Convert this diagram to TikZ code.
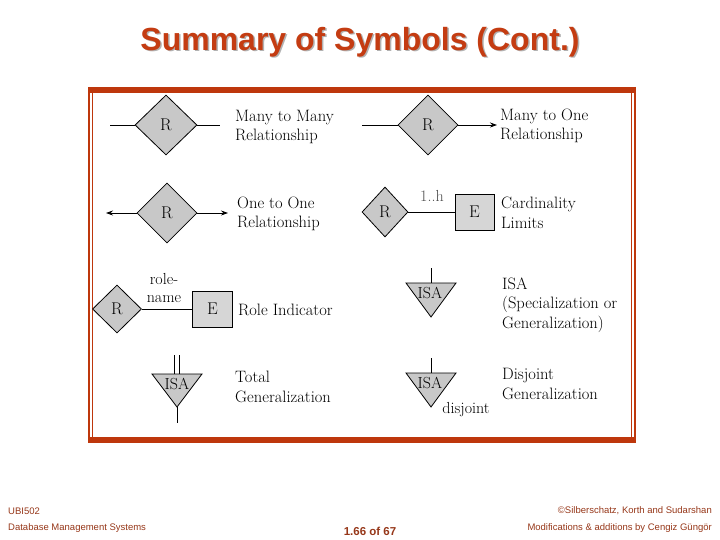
\documentclass[tikz,border=0pt]{standalone}
\usepackage{fontspec}
\usetikzlibrary{shapes.geometric,arrows.meta,positioning}
\newfontfamily\slidefont{Liberation Sans}

\definecolor{framered}{RGB}{190,55,12}
\definecolor{titlered}{RGB}{196,60,18}
\definecolor{footbrown}{RGB}{150,55,25}
\definecolor{symgray}{RGB}{200,200,200}
\definecolor{boxgray}{RGB}{214,214,214}

\tikzset{
  rel/.style={diamond,draw,fill=symgray,inner sep=0pt,line width=0.8pt,
              font=\fontsize{17}{20}\selectfont},
  ent/.style={rectangle,draw,fill=boxgray,inner sep=0pt,line width=0.8pt,
              font=\fontsize{17}{20}\selectfont},
  symtext/.style={anchor=west,align=left,inner sep=0pt,
              font=\fontsize{16.5}{19.5}\selectfont},
  lbl/.style={inner sep=0pt,align=center,font=\fontsize{16}{17.5}\selectfont},
  link/.style={line width=0.8pt},
  isa/.style={draw,fill=symgray,line width=0.8pt},
  foot/.style={inner sep=0pt,text=footbrown,font=\slidefont\fontsize{9.5}{11}\selectfont},
}

\begin{document}
\begin{tikzpicture}[x=1pt,y=-1pt]

\useasboundingbox (0,0) rectangle (720,540);

% Title
\node[text=gray!60] at (361.5,43.5) {\slidefont\bfseries\fontsize{32}{36}\selectfont Summary of Symbols (Cont.)};
\node[text=titlered] (title) at (360,42) {\slidefont\bfseries\fontsize{32}{36}\selectfont Summary of Symbols (Cont.)};

% Frame
\fill[framered] (88,87) rectangle (636,93);
\fill[framered] (88,437) rectangle (636,443);
\draw[framered,line width=1.6pt] (89,87) -- (89,443);
\draw[framered,line width=1pt] (92.5,93) -- (92.5,437);
\draw[framered,line width=1pt] (631.5,93) -- (631.5,437);
\draw[framered,line width=1.6pt] (635,87) -- (635,443);

% Many to many
\node[rel,minimum width=62pt,minimum height=60pt] (mm) at (166,125) {R};
\coordinate (mm-l) at (110,125);
\coordinate (mm-r) at (220,125);
\draw[link] (mm-l) -- (mm);
\draw[link] (mm) -- (mm-r);
\node[symtext] (mm-txt) at (235,127) {Many to Many\\Relationship};

% One to one
\node[rel,minimum width=60pt,minimum height=60pt] (oo) at (167,213) {R};
\coordinate (oo-l) at (106,213);
\coordinate (oo-r) at (228,213);
\draw[link,-{Stealth[length=7pt,width=5pt]}] (oo) -- (oo-l);
\draw[link,-{Stealth[length=7pt,width=5pt]}] (oo) -- (oo-r);
\node[symtext] (oo-txt) at (237,214) {One to One\\Relationship};

% Many to one
\node[rel,minimum width=60pt,minimum height=60pt] (mo) at (428,125) {R};
\coordinate (mo-l) at (362,125);
\coordinate (mo-r) at (497,125);
\draw[link] (mo-l) -- (mo);
\draw[link,-{Stealth[length=7pt,width=5pt]}] (mo) -- (mo-r);
\node[symtext] (mo-txt) at (500,126) {Many to One\\Relationship};

% Cardinality limits
\node[rel,minimum width=46pt,minimum height=50pt] (card) at (385,212) {R};
\node[ent,minimum width=39pt,minimum height=36pt] (card-e) at (474.5,212) {E};
\draw[link] (card) -- (card-e);
\node[lbl,text=black!70] (card-lim) at (432,196) {1..h};
\node[symtext] (card-txt) at (501,213) {Cardinality\\Limits};

% Role indicator
\node[rel,minimum width=49pt,minimum height=48pt] (role) at (117,309) {R};
\node[ent,minimum width=40pt,minimum height=36pt] (role-e) at (212.5,309) {E};
\draw[link] (role) -- (role-e);
\node[lbl] (role-name) at (164,288) {role-\\name};
\node[symtext] (role-txt) at (238,310) {Role Indicator};

% Total generalization
\draw[isa] (152,374) -- (202,374) -- (177,407) -- cycle;
\node[lbl] (tot) at (177,384) {ISA};
\coordinate (tot-up) at (177,355);
\coordinate (tot-dn) at (177,423);
\draw[link] ([xshift=-2.5pt]tot-up) -- ++(0,19);
\draw[link] ([xshift=2.5pt]tot-up) -- ++(0,19);
\draw[link] (177,407) -- (tot-dn);
\node[symtext] (tot-txt) at (235,387) {Total\\Generalization};

% ISA
\draw[isa] (406,283) -- (456,283) -- (431,317) -- cycle;
\node[lbl] (isa) at (430,293) {ISA};
\coordinate (isa-up) at (431,268);
\draw[link] (isa-up) -- (431,283);
\node[symtext] (isa-txt) at (502,305) {ISA\\(Specialization or\\Generalization)};

% Disjoint generalization
\draw[isa] (406,373) -- (456,373) -- (431,407) -- cycle;
\node[lbl] (dis) at (430,383) {ISA};
\coordinate (dis-up) at (431,358);
\draw[link] (dis-up) -- (431,373);
\node[lbl] (dis-lbl) at (466,410) {disjoint};
\node[symtext] (dis-txt) at (502,384) {Disjoint\\Generalization};

% Footer
\node[foot,anchor=west] (course) at (8,511) {UBI502};
\node[foot,anchor=west] (dbms) at (8,528) {Database Management Systems};
\node[inner sep=0pt,text=footbrown] (page) at (370,531) {\slidefont\bfseries\fontsize{11.5}{13}\selectfont 1.66 of 67};
\node[foot,anchor=east] (copy) at (712,511) {©Silberschatz, Korth and Sudarshan};
\node[foot,anchor=east] (mods) at (712,528) {Modifications \& additions by Cengiz Güngör};

\end{tikzpicture}
\end{document}
